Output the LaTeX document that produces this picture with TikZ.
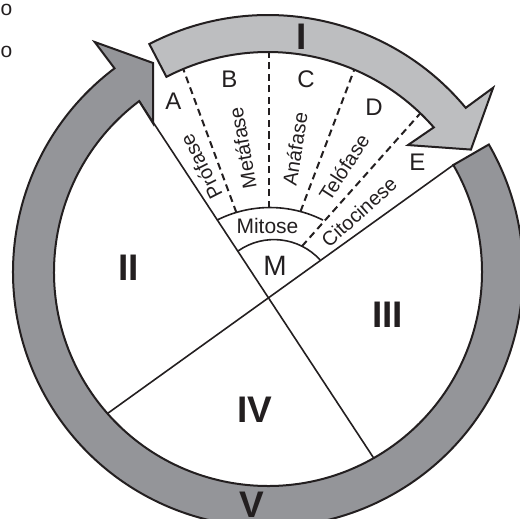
\documentclass[tikz,border=0pt]{standalone}
\usepackage{fontspec}
\setmainfont{Liberation Sans}
\usepackage{tikz}
\usetikzlibrary{calc}

\definecolor{ringgray}{RGB}{148,149,153}
\definecolor{arcgray}{RGB}{189,190,192}
\definecolor{ink}{RGB}{35,31,32}

\begin{document}
\begin{tikzpicture}[x=1pt, y=1pt,
  ring/.style={fill=ringgray, draw=ink, line width=2pt},
  band/.style={fill=arcgray, draw=ink, line width=2pt},
  chord/.style={draw=ink, line width=1.6pt},
  divider/.style={draw=ink, line width=2pt, dash pattern=on 7pt off 4.5pt},
  roman/.style={font=\fontsize{37}{37}\selectfont\bfseries, text=ink, inner sep=0pt, anchor=base},
  letter/.style={font=\fontsize{24}{24}\selectfont, text=ink, inner sep=0pt, anchor=base},
  phase/.style={font=\fontsize{20}{20}\selectfont, text=ink, inner sep=0pt},
]
  \useasboundingbox (0,0) rectangle (520,-519);
  \coordinate (O) at (268,-272);

  % outer cycle arrow
  \begin{scope}[shift={(O)}]
    \filldraw[ring] (30:255) arc[start angle=30, end angle=-233, radius=255]
      -- (127:288) -- (118.8:238.5) -- (127.7:188) -- (127:214)
      arc[start angle=127, end angle=390, radius=214] -- cycle;
    \coordinate (ne) at (30:214);
    \coordinate (nw) at (127:214);
    \coordinate (sw) at (221.4:214);
    \coordinate (se) at (299.6:214);
  \end{scope}

  \draw[chord] (ne) -- (sw);
  \draw[chord] (nw) -- (se);

  % mitosis sub-phases
  \draw[chord] (238.4,-250.75) arc[start angle=124.8, end angle=42.4, radius=62.4];
  \draw[chord] (216.8,-220.2) arc[start angle=116.8, end angle=63.3, radius=118];
  \draw[divider] (236.4,-212.6) -- (181.2,-63.5);
  \draw[divider] (269,-207.5) -- (269,-45);
  \draw[divider] (300.5,-211.5) -- (356.3,-64.2);
  \draw[divider] (302,-246.2) -- (423.7,-109.5);

  % interphase arrow
  \begin{scope}[shift={(O)}]
    \filldraw[band] (117.5:257) arc[start angle=117.5, end angle=39.7, radius=257]
      -- (39.3:291) -- (31.1:237) -- (42.2:189) -- (41.1:220)
      arc[start angle=41.1, end angle=117.5, radius=220] -- cycle;
  \end{scope}

  \node[roman] (r1) at (301.5,-50) {I};
  \node[roman] (r2) at (128.5,-280) {II};
  \node[roman] (r3) at (387.5,-327) {III};
  \node[roman] (r4) at (254.5,-422) {IV};
  \node[roman] (r5) at (251.5,-517) {V};

  \node[letter] (la) at (173.5,-110) {A};
  \node[letter] (lb) at (229.5,-88) {B};
  \node[letter] (lc) at (306,-88) {C};
  \node[letter] (ld) at (374,-115) {D};
  \node[letter] (le) at (417.5,-170) {E};
  \node[letter, font=\fontsize{28}{28}\selectfont] (lm) at (275,-275) {M};
  \node[letter, font=\fontsize{21}{21}\selectfont] (mit) at (267.5,-233) {Mitose};

  \node[phase, rotate=117] (pro) at (201,-167) {Prófase};
  \node[phase, rotate=100] (met) at (242.5,-148) {Metáfase};
  \node[phase, rotate=81] (ana) at (295,-149) {Anáfase};
  \node[phase, rotate=57] (tel) at (344,-167.5) {Telófase};
  \node[phase, rotate=42] (cit) at (359,-212) {Citocinese};

  \node[letter, font=\fontsize{21}{21}\selectfont, anchor=base west] (o1) at (0.5,-16) {o};
  \node[letter, font=\fontsize{21}{21}\selectfont, anchor=base west] (o2) at (0.5,-58) {o};
\end{tikzpicture}
\end{document}
